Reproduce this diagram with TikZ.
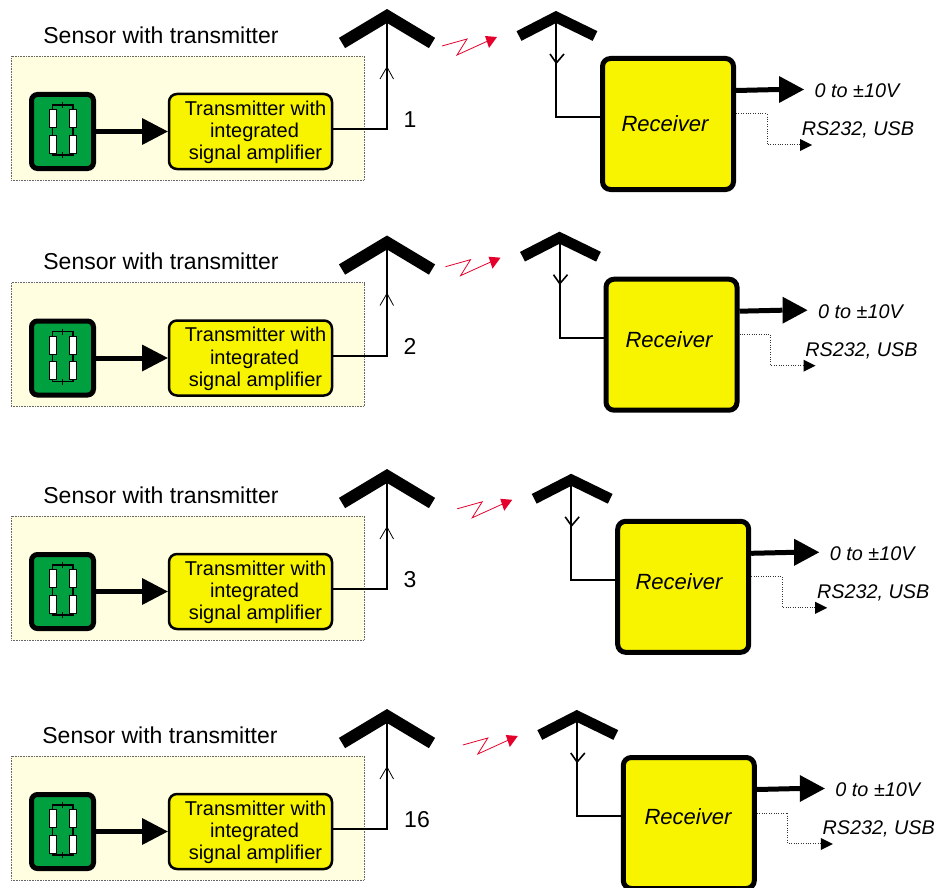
\documentclass[tikz,border=0pt]{standalone}
\usepackage{fontspec}
\setmainfont{Liberation Sans}
\definecolor{panelfill}{HTML}{FFFEE0}
\definecolor{boxyellow}{HTML}{F8F400}
\definecolor{sensorgreen}{HTML}{00A040}
\definecolor{radiored}{HTML}{E4002B}
\tikzset{
  x=1pt,y=-1pt,
  panelbox/.style={draw=black!60,densely dotted,line width=.6pt,fill=panelfill,minimum width=353pt,minimum height=124pt,inner sep=0pt,outer sep=0pt},
  sensorbox/.style={draw=black,line width=5pt,fill=sensorgreen,rounded corners=6pt,minimum width=62pt,minimum height=74pt,inner sep=0pt,outer sep=2.5pt},
  txbox/.style={draw=black,line width=2.5pt,fill=boxyellow,rounded corners=8pt,minimum width=163pt,minimum height=75pt,inner sep=0pt,outer sep=1.2pt,align=center,font=\fontsize{20}{22.2}\selectfont},
  rxbox/.style={draw=black,line width=5pt,fill=boxyellow,rounded corners=8pt,minimum width=131pt,minimum height=131pt,inner sep=0pt,outer sep=2.5pt},
  rxtext/.style={font=\fontsize{22}{24}\selectfont\itshape,inner sep=0pt},
  titletext/.style={font=\fontsize{23}{26}\selectfont,inner sep=0pt},
  numtext/.style={font=\fontsize{23}{26}\selectfont,inner sep=0pt},
  outtext/.style={font=\fontsize{19.8}{24}\selectfont\itshape,inner sep=0pt},
  txdish/.style={line width=12pt,miter limit=10},
  rxdish/.style={line width=10.8pt,miter limit=10},
  feed/.style={line width=2pt,line join=miter},
  thinbarb/.style={line width=.8pt},
  barb/.style={line width=1.6pt},
  resistor/.style={draw=black,line width=.8pt,fill=white,minimum width=7pt,minimum height=18pt,inner sep=0pt,outer sep=0pt},
  wire/.style={line width=1.2pt},
  bigtip/.style={fill=black,draw=none},
  dataline/.style={draw=black!80,line width=1pt,dash pattern=on 1pt off 1.4pt},
  zig/.style={draw=radiored,line width=.8pt},
}
% #1 prefix, #2 dy, #3 number, #4 number x, #5 title dx
\newcommand\txrow[5]{%
 \begin{scope}[shift={(0,#2)}]
  \node[panelbox] (#1panel) at (187.5,118) {};
  \node[titletext] (#1title) at (161+#5,35) {Sensor with transmitter};
  \node[sensorbox] (#1sensor) at (62.5,131.5) {};
  \node[resistor] (#1ra) at (52.5,118.5) {};
  \node[resistor] (#1rb) at (73,118.5) {};
  \node[resistor] (#1rc) at (52.5,144) {};
  \node[resistor] (#1rd) at (73,144) {};
  \coordinate (#1wt) at (62.7,105);
  \coordinate (#1wb) at (62.7,155);
  \draw[wire] (#1ra.north) |- (#1wt) -| (#1rb.north);
  \draw[wire] (#1rc.south) |- (#1wb) -| (#1rd.south);
  \draw[wire] (#1ra.south) -- (#1rc.north);
  \draw[wire] (#1rb.south) -- (#1rd.north);
  \draw[wire] ([yshift=-3pt]#1wt) -- ([yshift=3pt]#1wt);
  \draw[wire] ([yshift=-3pt]#1wb) -- ([yshift=3pt]#1wb);
  \node[txbox] (#1tx) at (250.5,131.5) {\rule{0pt}{16.5pt}\hspace*{10pt}Transmitter with\\\hspace*{8pt}integrated\\\hspace*{10pt}signal amplifier};
  \coordinate (#1headb) at (142,131.5);
  \draw[line width=5pt] (#1sensor.east) -- (#1headb);
  \fill[bigtip] (142,118) -- (#1tx.west) -- (142,145) -- cycle;
  \coordinate (#1apex) at (387,16);
  \coordinate (#1corner) at (387,129);
  \draw[txdish] (342,43) -- (#1apex) -- (432,43);
  \draw[feed] (#1tx.east |- #1corner) -- (#1corner) -- (#1apex);
  \draw[thinbarb] (380,79) -- (387,67) -- (393.5,79);
  \node[numtext] (#1num) at (#4,120) {#3};
 \end{scope}}
% #1 prefix, #2 dx, #3 dy, #4 receiver text position
\newcommand\rxrow[4]{%
 \begin{scope}[shift={(#2,#3)}]
  \node[rxbox] (#1rx) at (668,124) {};
  \node[rxtext] (#1rxlabel) at (#4) {Receiver};
  \coordinate (#1apex) at (556,17);
  \coordinate (#1corner) at (556,117);
  \draw[rxdish] (519,36) -- (#1apex) -- (595,36);
  \draw[feed] (#1rx.west |- #1corner) -- (#1corner) -- (#1apex);
  \draw[barb] (550,54) -- (556.3,63) -- (564,54);
  \coordinate (#1out) at (779,89.5);
  \draw[line width=5pt] (#1rx.east |- 0,90.5) -- (#1out);
  \fill[bigtip] (779,76) -- (804,89.5) -- (779,103) -- cycle;
  \node[outtext] (#1vtext) at (857,90.5) {0 to ±10V};
  \coordinate (#1da) at (767,114);
  \coordinate (#1db) at (767,144.5);
  \draw[dataline] (#1rx.east |- #1da) -- (#1da) -- (#1db) -- (800,144.5);
  \fill[bigtip] (800,139) -- (812,145) -- (800,151) -- cycle;
  \node[outtext] (#1stext) at (858,130) {RS232, USB};
  \draw[zig] (442,46) -- (467,39) -- (457,55) -- (490,40);
  \fill[radiored] (497,37) -- (485,36) -- (489,48) -- cycle;
 \end{scope}}
\begin{document}
\begin{tikzpicture}
\useasboundingbox (0,0) rectangle (934,888);
\txrow{a}{0}{1}{410}{0}
\txrow{b}{226.5}{2}{410}{0}
\txrow{c}{460}{3}{410}{0}
\txrow{d}{700}{16}{417}{-1}
\rxrow{a}{0}{0}{665,124}
\rxrow{b}{3.5}{220.7}{665.5,119.3}
\rxrow{c}{15.2}{462.8}{663.8,118.9}
\rxrow{d}{20.8}{699}{667.2,117.7}
\end{tikzpicture}
\end{document}
